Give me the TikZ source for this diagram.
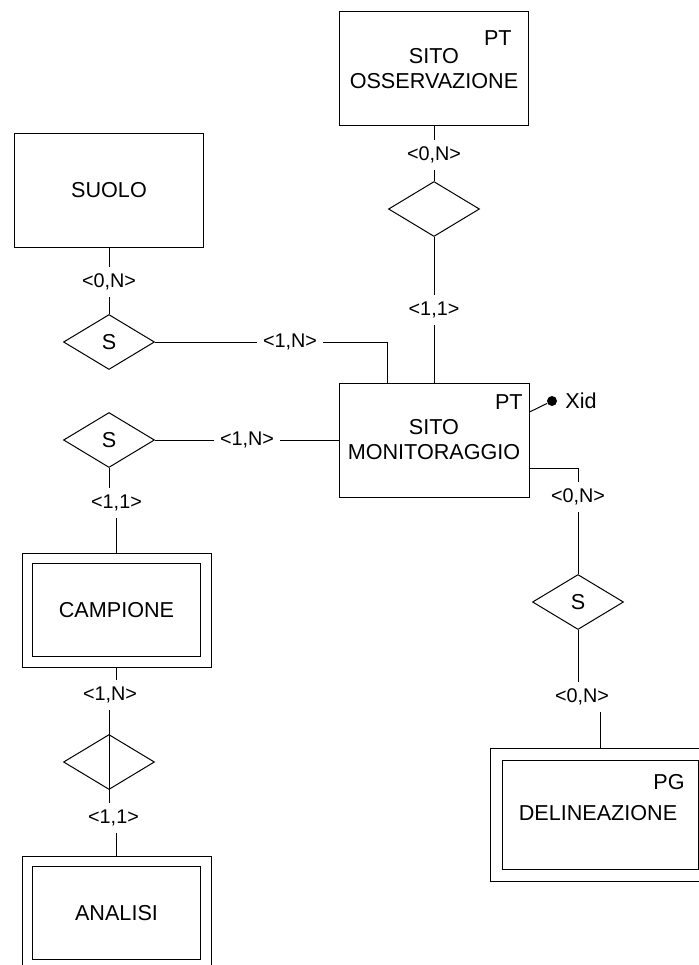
\documentclass[tikz,border=0pt]{standalone}
\usepackage{fontspec}
\setmainfont{Liberation Sans}
\usetikzlibrary{shapes.geometric,positioning}
\tikzset{
  ent/.style={draw, line width=0.5pt, minimum width=94.5pt, minimum height=57pt, align=center, inner sep=0pt, font=\fontsize{10.8}{12.5}\selectfont},
  weak/.style={ent, double, double distance=4.75pt, minimum width=89.25pt, minimum height=51.75pt, outer sep=2.625pt},
  rel/.style={draw, shape=diamond, line width=0.5pt, minimum width=45.5pt, minimum height=27.5pt, inner sep=0pt, font=\fontsize{10.8}{12.5}\selectfont},
  card/.style={font=\fontsize{9.9}{11}\selectfont, minimum height=15pt, inner ysep=0pt, inner xsep=3pt},
  tag/.style={font=\fontsize{10.8}{12.5}\selectfont, inner sep=0pt, anchor=base east},
  link/.style={line width=0.5pt}}
\begin{document}
\begin{tikzpicture}[x=0.5pt, y=-0.5pt]
  \useasboundingbox (0,0) rectangle (699,965);
  % entities
  \node[ent] (osserv) at (434,68.5) {SITO\\OSSERVAZIONE};
  \node[ent] (suolo) at (109,190) {SUOLO};
  \node[ent, minimum width=95pt] (monit) at (434,440) {SITO\\MONITORAGGIO};
  \node[weak] (campione) at (116.5,610) {CAMPIONE};
  \node[weak] (analisi) at (116.5,913) {ANALISI};
  \node[weak, double distance=5.5pt, minimum width=104pt, minimum height=60.5pt, outer sep=3pt] (delin) at (600,814.5) {};
  \node[tag] at (512,45) {PT};
  \node[tag] at (523,409) {PT};
  \node[tag] at (685,789) {PG};
  \node[tag, anchor=center] at (598,813) {DELINEAZIONE};
  % relationships
  \node[rel] (d1) at (434,209) {};
  \node[rel] (dS1) at (109,342) {S};
  \node[rel] (dS2) at (109,440) {S};
  \node[rel] (dCA) at (109,762) {};
  \node[rel] (dS3) at (578,602) {S};
  % cardinalities
  \node[card] (c0) at (434,155) {<0,N>};
  \node[card] (c1) at (109,282) {<0,N>};
  \node[card] (c2) at (434,310) {<1,1>};
  \node[card] (c3) at (290,342) {<1,N>};
  \node[card] (c4) at (247,440) {<1,N>};
  \node[card] (c5) at (116.5,503) {<1,1>};
  \node[card] (c6) at (578,497) {<0,N>};
  \node[card] (c7) at (110,695) {<1,N>};
  \node[card] (c8) at (113.5,818) {<1,1>};
  \node[card] (c9) at (582,697) {<0,N>};
  % identifier
  \node[circle, fill, inner sep=0pt, minimum size=5pt] (dot) at (552,401) {};
  \node[font=\fontsize{10.8}{12.5}\selectfont, inner sep=0pt, anchor=west] (xid) at (565,401) {Xid};
  \draw[link] (osserv) -- (c0) (c0) -- (d1); \draw[link] (d1) -- (c2) (c2) -- (monit);
  \draw[link] (suolo) -- (c1) (c1) -- (dS1);
  \draw[link] (dS1) -- (c3); \draw[link] (c3.east) -| ([xshift=-23.5pt]monit.north);
  \draw[link] (dS2) -- (c4) (c4) -- (monit);
  \draw[link] (dS2.south) -- (dS2.south |- c5.north); \draw[link] (c5.south) -- (campione.north);
  \draw[link] (campione.south) -- (campione.south |- c7.north); \draw[link] (c7.south -| dCA.south) -- (dCA.south);
  \draw[link] (dCA.south) -- (dCA.south |- c8.north); \draw[link] (analisi.north) -- (analisi.north |- c8.south);
  \draw[link] ([yshift=-14pt]monit.east) -| (c6.north); \draw[link] (c6) -- (dS3);
  \draw[link] (dS3.south) -- (dS3.south |- c9.north); \draw[link] (delin.north) -- (delin.north |- c9.south);
  \draw[link] ([yshift=14pt]monit.east) -- (dot);
\end{tikzpicture}
\end{document}
